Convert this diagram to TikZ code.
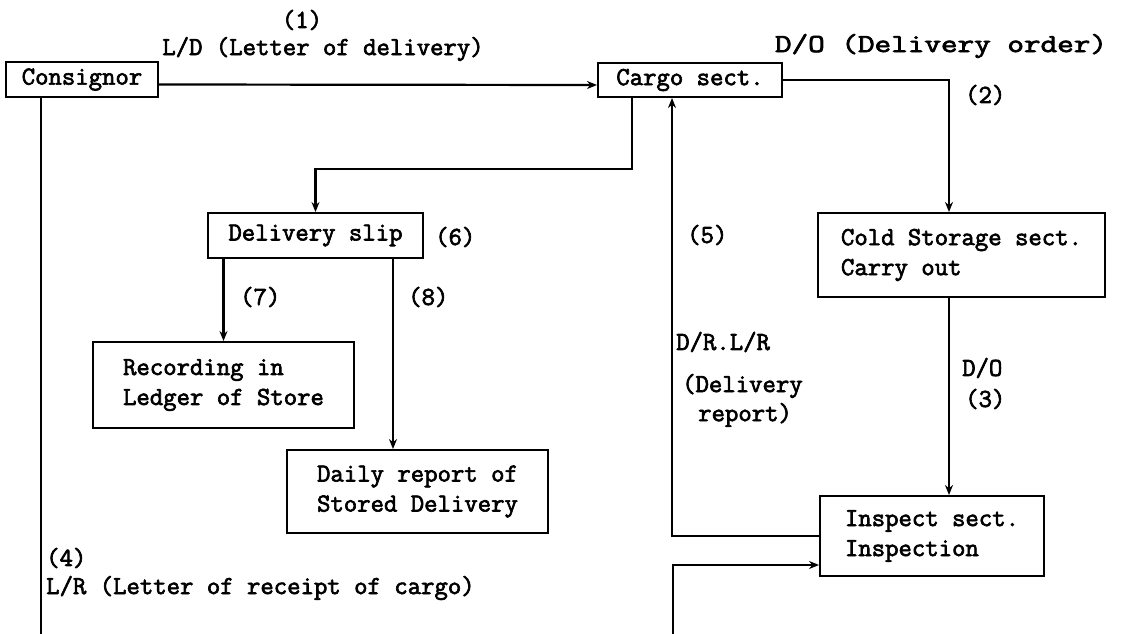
\documentclass[tikz,border=0pt]{standalone}
\usepackage{fontspec}
\newfontfamily\scanfont[FakeBold=2.5]{Latin Modern Mono}
\usetikzlibrary{arrows.meta}
\begin{document}
\begin{tikzpicture}[x=1pt,y=-1pt,
  txt/.style={font=\scanfont\fontsize{26}{30}\selectfont, inner sep=0pt},
  box/.style={draw, line width=2pt, txt, align=left},
  link/.style={line width=2.2pt},
  arr/.style={link, -{Stealth[length=10pt,width=8pt]}}]
\useasboundingbox[fill=white] (0,0) rectangle (1125,634);
% boxes
\node[box, minimum width=152pt, minimum height=35pt] (cons) at (82,79.5) {Consignor};
\node[box, minimum width=184pt, minimum height=34pt] (cargo) at (690,80) {Cargo sect.};
\node[box, minimum width=287pt, minimum height=84pt] (cold) at (961.5,255) {Cold Storage sect.\\Carry out};
\node[box, minimum width=224pt, minimum height=80pt] (insp) at (932,536) {Inspect sect.\\Inspection};
\node[box, minimum width=215pt, minimum height=45pt] (slip) at (315.5,235.5) {Delivery slip};
\node[box, minimum width=261pt, minimum height=86pt] (rec) at (223.5,385) {Recording in\\Ledger of Store};
\node[box, minimum width=261pt, minimum height=83pt] (daily) at (417.5,491.5) {Daily report of\\Stored Delivery};
% helper coordinates
\coordinate (b0) at (41,634);
\coordinate (c1) at (632,169);
\coordinate (c2) at (672,535);
\coordinate (b1) at (673,634);
\coordinate (x8) at (393,0);
% connectors
\draw[arr] ([yshift=-5pt]cons.east) -- ([yshift=-5pt]cargo.west);
\draw[arr] (cargo.east) -| ([xshift=-12.5pt]cold.north);
\draw[arr] ([xshift=-12.5pt]cold.south) -- ([xshift=-12.5pt]cold.south |- insp.north);
\draw[arr] (cargo.south -| c1) -- (c1) -| (slip.north);
\draw[arr] (insp.west) -- (insp.west -| c2) -- (c2 |- cargo.south);
\draw[arr] (b1) |- ([yshift=-29pt]insp.west);
\draw[link] (cons.south -| b0) -- (b0);
\draw[arr] (rec.north |- slip.south) -- (rec.north);
\draw[arr] (slip.south -| x8) -- (daily.north -| x8);
% labels
\node[txt] (l1) at (302,20) {(1)};
\node[txt] (l1b) at (323,49) {L/D (Letter of delivery)};
\node[txt] (l2a) at (941,46) {\scalebox{1.24}[1]{D/O (Delivery order)}};
\node[txt, anchor=west] (l2) at (965,95) {(2)};
\node[txt, anchor=west] (l5) at (687,235) {(5)};
\node[txt, anchor=west] (l5a) at (676,342) {D/R.L/R};
\node[txt, anchor=west] (l5b) at (682,386) {(Delivery};
\node[txt, anchor=west] (l5c) at (698,415) {report)};
\node[txt, anchor=west] (l3a) at (962,368) {D/O};
\node[txt, anchor=west] (l3) at (965,399) {(3)};
\node[txt, anchor=west] (l6) at (435,237) {(6)};
\node[txt, anchor=west] (l7) at (240,297) {(7)};
\node[txt, anchor=west] (l8) at (408,297) {(8)};
\node[txt, anchor=west] (l4) at (46,558) {(4)};
\node[txt, anchor=west] (l4a) at (46,588) {L/R (Letter of receipt of cargo)};
\end{tikzpicture}
\end{document}
